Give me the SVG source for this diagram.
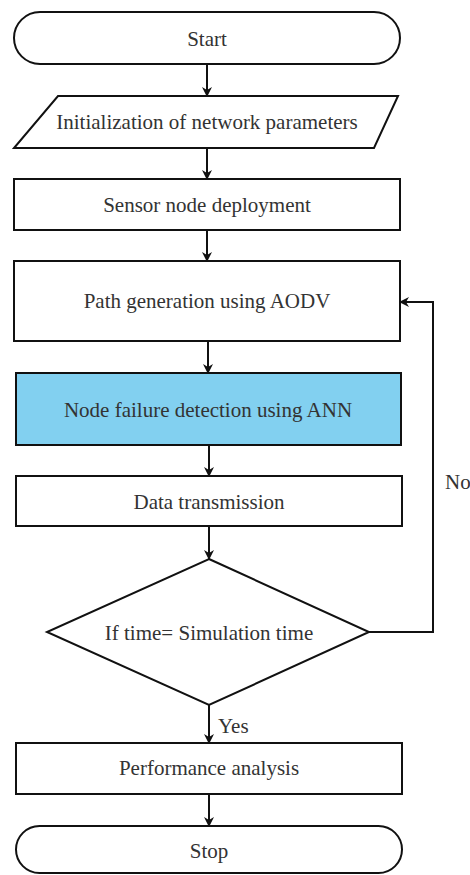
<svg xmlns="http://www.w3.org/2000/svg" width="470" height="875" viewBox="0 0 470 875">
<defs>
<marker id="ah" markerWidth="10" markerHeight="10" refX="9" refY="5" orient="auto" markerUnits="userSpaceOnUse">
<path d="M0,0 L10,5 L0,10 L3,5 Z" fill="#111"/>
</marker>
<style>
.s{fill:#fff;stroke:#111;stroke-width:2}
.b{fill:#82d0f0;stroke:#111;stroke-width:2}
text{font-family:'Liberation Serif','Times New Roman',serif;font-size:21px;fill:#333}
.t{text-anchor:middle}
.c{fill:none;stroke:#111;stroke-width:2;marker-end:url(#ah)}
</style>
</defs>
<rect width="470" height="875" fill="#fff"/>
<g id="start"><rect class="s" x="14" y="12" width="386" height="52" rx="26" ry="26"/><text class="t" x="207" y="46">Start</text></g>
<g id="init"><polygon class="s" points="58,96 398,96 374,148 14,148"/><text class="t" x="207" y="129">Initialization of network parameters</text></g>
<g id="deploy"><rect class="s" x="14" y="179" width="386" height="51"/><text class="t" x="207" y="212">Sensor node deployment</text></g>
<g id="path"><rect class="s" x="14" y="261" width="386" height="80"/><text class="t" x="207" y="308">Path generation using AODV</text></g>
<g id="detect"><rect class="b" x="16" y="373" width="385" height="72"/><text class="t" x="208" y="417">Node failure detection using ANN</text></g>
<g id="data"><rect class="s" x="16" y="476" width="386" height="50"/><text class="t" x="209" y="509">Data transmission</text></g>
<g id="decision"><polygon class="s" points="209,559 369,632 209,705 47,632"/><text class="t" x="209" y="640">If time= Simulation time</text></g>
<g id="perf"><rect class="s" x="16" y="743" width="386" height="51"/><text class="t" x="209" y="775">Performance analysis</text></g>
<g id="stop"><rect class="s" x="16" y="826" width="386" height="47" rx="23.5" ry="23.5"/><text class="t" x="209" y="858">Stop</text></g>
<g id="connectors">
<line class="c" x1="207" y1="64" x2="207" y2="96"/>
<line class="c" x1="207" y1="148" x2="207" y2="179"/>
<line class="c" x1="207" y1="230" x2="207" y2="261"/>
<line class="c" x1="208" y1="341" x2="208" y2="373"/>
<line class="c" x1="209" y1="445" x2="209" y2="476"/>
<line class="c" x1="209" y1="526" x2="209" y2="559"/>
<line class="c" x1="209" y1="705" x2="209" y2="743"/>
<line class="c" x1="209" y1="794" x2="209" y2="826"/>
<polyline class="c" points="369,632 433,632 433,302 400,302"/>
<text x="445" y="489">No</text>
<text x="218" y="733">Yes</text>
</g>
</svg>
